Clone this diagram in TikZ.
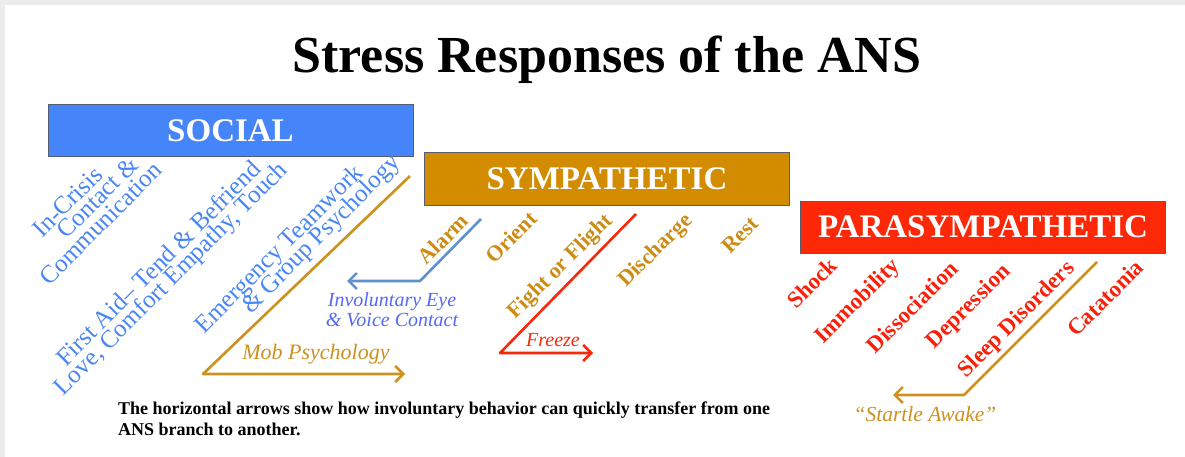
\documentclass[tikz,border=0pt]{standalone}
\usepackage{fontspec}
\setmainfont{Liberation Serif}
\usetikzlibrary{arrows.meta}
\definecolor{framegray}{RGB}{236,236,236}
\definecolor{socialblue}{RGB}{70,132,250}
\definecolor{sympgold}{RGB}{211,140,0}
\definecolor{parared}{RGB}{252,40,8}
\definecolor{boxedge}{RGB}{85,95,115}
\definecolor{lblblue}{RGB}{72,133,245}
\definecolor{lblgold}{RGB}{205,140,20}
\definecolor{lblred}{RGB}{250,32,10}
\definecolor{eyeblue}{RGB}{85,105,245}
\definecolor{arrgold}{RGB}{205,145,30}
\definecolor{arrblue}{RGB}{95,145,205}
\definecolor{arrred}{RGB}{250,40,10}
\begin{document}
\begin{tikzpicture}[x=1pt,y=-1pt,
  branch/.style={draw=boxedge, line width=1pt, text=white, inner sep=0pt,
    minimum width=365pt, minimum height=52pt,
    font=\fontsize{33}{36}\selectfont\bfseries},
  soclabel/.style={rotate=45, text=lblblue, inner sep=0pt, anchor=center,
    font=\fontsize{25}{20}\selectfont},
  symlabel/.style={rotate=45, text=lblgold, inner sep=0pt, anchor=center,
    font=\fontsize{22}{24}\selectfont\bfseries},
  parlabel/.style={rotate=45, text=lblred, inner sep=0pt, anchor=center,
    font=\fontsize{23}{25}\selectfont\bfseries},
  arrlabel/.style={inner sep=0pt, anchor=center, align=center},
  shiftarrow/.style={line width=2.6pt, line join=round,
    -{Straight Barb[length=8pt,width=16pt]}}
]
\useasboundingbox (0,0) rectangle (1185,457);
\fill[white] (0,0) rectangle (1185,457);
\fill[framegray] (0,0) rectangle (1185,5);
\fill[framegray] (0,0) rectangle (5,457);

% title
\node[anchor=base, inner sep=0pt, font=\fontsize{52}{60}\selectfont\bfseries] (title) at (607,73) {Stress Responses of the ANS};

% branch boxes
\node[branch, fill=socialblue] (social) at (230.5,131) {SOCIAL};
\node[branch, fill=sympgold] (symp) at (607,179) {SYMPATHETIC};
\node[branch, fill=parared] (para) at (983,227) {PARASYMPATHETIC};

% social labels
\node[soclabel] (s1a) at (67.5,201.7) {In-Crisis};
\node[soclabel] (s1b) at (97.5,197.5) {Contact \&};
\node[soclabel] (s1c) at (100.8,223.3) {Communication};
\node[soclabel] (s2a) at (158,263) {First Aid– Tend \& Befriend};
\node[soclabel] (s2b) at (172,279.5) {Love, Comfort Empathy, Touch};
\node[soclabel] (s3a) at (280,250) {Emergency Teamwork};
\node[soclabel] (s3b) at (322,235) {\& Group Psychology};

% sympathetic labels
\node[symlabel] (alarm) at (443,239) {Alarm};
\node[symlabel] (orient) at (511,237) {Orient};
\node[symlabel] (fight) at (561,267) {Fight or Flight};
\node[symlabel] (discharge) at (656,251) {Discharge};
\node[symlabel] (rest) at (740,235) {Rest};

% parasympathetic labels
\node[parlabel] (shock) at (812,283) {Shock};
\node[parlabel] (immob) at (858,302) {Immobility};
\node[parlabel] (dissoc) at (912,307) {Dissociation};
\node[parlabel] (depress) at (969,307) {Depression};
\node[parlabel] (sleep) at (1017,320) {Sleep Disorders};
\node[parlabel] (catat) at (1105,298) {Catatonia};

% arrow points
\coordinate (mobA) at (410,176);
\coordinate (mobB) at (203,374);
\coordinate (mobC) at (405,374);
\coordinate (alA) at (481,219);
\coordinate (alB) at (420,281);
\coordinate (alC) at (347,281);
\coordinate (frA) at (636,214);
\coordinate (frB) at (500,353);
\coordinate (frC) at (593,353);
\coordinate (stA) at (1097,262);
\coordinate (stB) at (964,395);
\coordinate (stC) at (893,395);

\draw[shiftarrow, arrgold] (mobA) -- (mobB) -- (mobC);
\draw[shiftarrow, arrblue] (alA) -- (alB) -- (alC);
\draw[shiftarrow, arrred] (frA) -- (frB) -- (frC);
\draw[shiftarrow, arrgold] (stA) -- (stB) -- (stC);

% arrow labels
\node[arrlabel, text=eyeblue, font=\fontsize{20}{20}\selectfont\itshape] (eye) at (392,310) {Involuntary Eye\\\& Voice Contact};
\node[arrlabel, text=arrgold, font=\fontsize{22}{24}\selectfont\itshape] (mob) at (316,354) {Mob Psychology};
\node[arrlabel, text=arrred, font=\fontsize{20}{22}\selectfont\itshape] (freeze) at (553,340) {Freeze};
\node[arrlabel, text=arrgold, font=\fontsize{21.5}{24}\selectfont\itshape] (startle) at (925,414) {“Startle Awake”};

% note
\node[anchor=north west, inner sep=0pt, align=left, font=\fontsize{18}{21}\selectfont\bfseries] (note) at (118,402) {The horizontal arrows show how involuntary behavior can quickly transfer from one\\ANS branch to another.};
\end{tikzpicture}
\end{document}
